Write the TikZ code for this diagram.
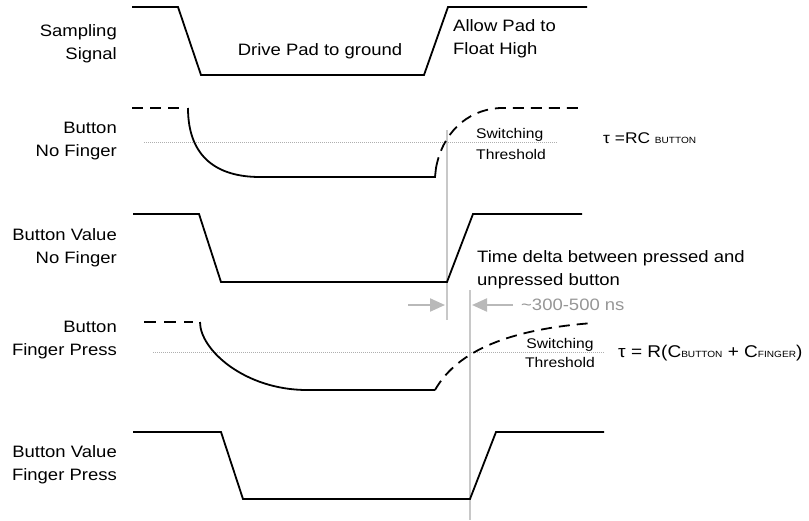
\documentclass[tikz,border=0pt]{standalone}
\usepackage{fontspec}
\setmainfont{Liberation Sans}[FakeStretch=1.12]
\usetikzlibrary{arrows.meta}
\definecolor{vline}{RGB}{200,200,200}
\definecolor{arrgray}{RGB}{185,185,185}
\definecolor{txtgray}{RGB}{150,150,150}
\definecolor{thr}{RGB}{175,175,175}
\newcommand{\subsz}{\fontsize{9}{9}\selectfont}
\begin{document}
\begin{tikzpicture}[x=1pt,y=-1pt,
  wave/.style={line width=1.8pt, line join=miter},
  dashwave/.style={wave, dash pattern=on 11pt off 7pt},
  thresh/.style={line width=0.9pt, thr, dash pattern=on 1pt off 1pt},
  vmark/.style={line width=2pt, vline},
  dimarrow/.style={line width=2.2pt, arrgray, -{Triangle[length=15pt,width=13pt]}},
  lbl/.style={font=\fontsize{16.5}{23}\selectfont, inner sep=0pt},
  smalllbl/.style={font=\fontsize{14}{21}\selectfont, inner sep=0pt},
]
\useasboundingbox (0,0) rectangle (809,520);

% gray time markers
\draw[vmark] (447,130) -- (447,320);
\draw[vmark] (470,290) -- (470,520);
\coordinate (a1s) at (408,305);
\coordinate (a1e) at (445,305);
\coordinate (a2s) at (513,305);
\coordinate (a2e) at (472,305);
\draw[dimarrow] (a1s) -- (a1e);
\draw[dimarrow] (a2s) -- (a2e);

% thresholds
\draw[thresh] (144,142) -- (558,142);
\draw[thresh] (153,352) -- (605,352);

% Sampling signal
\draw[wave] (132,7) -- (178,7) -- (201,75) -- (424,75) -- (448,7) -- (587,7);

% Button no finger
\draw[dashwave] (132,108) -- (180,108);
\draw[wave] (188,108) .. controls (188,158) and (218,177) .. (260,177) -- (435,177) -- (436,168);
\draw[dashwave] (436,168) .. controls (442,135) and (465,110) .. (500,108) -- (582,108);

% Button value no finger
\draw[wave] (133,214) -- (199,214) -- (221,282) -- (447,282) -- (473,214) -- (582,214);

% Button finger press
\draw[wave, dash pattern=on 12pt off 8pt] (144,322) -- (193,322);
\draw[wave] (200,322) .. controls (200,350) and (245,390) .. (307,390) -- (435,390);
\draw[dashwave] (435,390) .. controls (455,355) and (500,330) .. (593,323);

% Button value finger press
\draw[wave] (133,432) -- (221,432) -- (243,499) -- (470,499) -- (496,432) -- (604,432);

% labels
\node[lbl, anchor=east, align=right] (sl) at (117,44) {Sampling\\Signal};
\node[lbl, anchor=base] (dp) at (320,55) {Drive Pad to ground};
\node[lbl, anchor=west, align=left] (ap) at (453,39) {Allow Pad to\\Float High};
\node[lbl, anchor=east, align=right] (bn) at (117,141) {Button\\No Finger};
\node[smalllbl, anchor=west, align=left] (st1) at (476,144) {Switching\\Threshold};
\node[inner sep=0pt, anchor=base west, font=\fontsize{15.5}{17}\selectfont] (tau1) at (603,143) {τ =RC {\subsz BUTTON}};
\node[lbl, anchor=east, align=right] (bvn) at (117,248) {Button Value\\No Finger};
\node[lbl, anchor=west, align=left] (td) at (477,270) {Time delta between pressed and\\unpressed button};
\node[lbl, anchor=west, text=txtgray] (ns) at (521,305) {\textasciitilde 300-500 ns};
\node[lbl, anchor=east, align=right] (bf) at (117,340) {Button\\Finger Press};
\node[inner sep=0pt, anchor=center, align=center, font=\fontsize{14}{19}\selectfont] (st2) at (560,353) {Switching\\Threshold};
\node[inner sep=0pt, anchor=base west, font=\fontsize{17}{19}\selectfont] (tau2) at (618,357) {τ = R(C{\subsz BUTTON} + C{\subsz FINGER})};
\node[lbl, anchor=east, align=right] (bvf) at (117,465) {Button Value\\Finger Press};
\end{tikzpicture}
\end{document}
